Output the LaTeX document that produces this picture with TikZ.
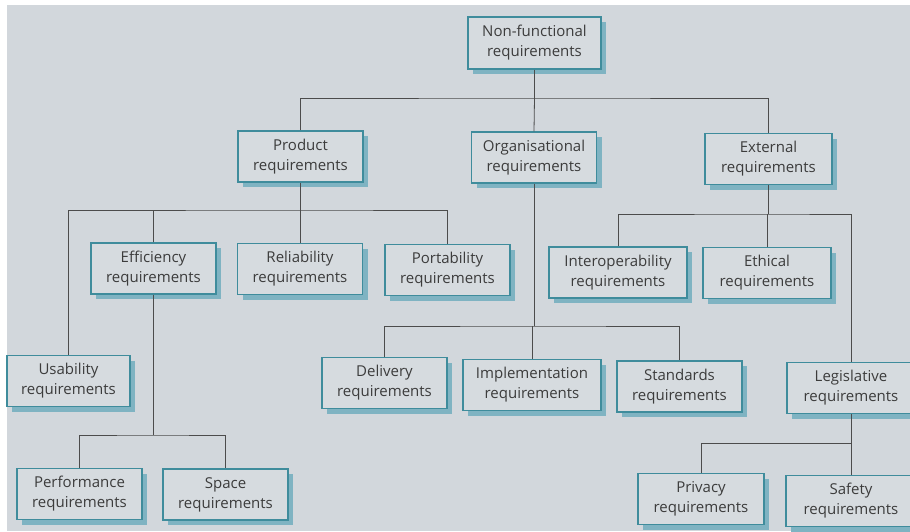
\documentclass[tikz,border=0pt]{standalone}
\usepackage{fontspec}
\setmainfont{Open Sans}
\usepackage{xcolor}
\usetikzlibrary{calc}
\usetikzlibrary{positioning,shadows}
\definecolor{paper}{HTML}{D2D7DC}
\definecolor{boxfill}{HTML}{D6DBDF}
\definecolor{boxline}{HTML}{3F8C9C}
\definecolor{boxshade}{HTML}{7FB3C2}
\definecolor{inkgrey}{HTML}{3C3C3C}
\tikzset{req/.style={draw=boxline, line width=1.1pt, fill=boxfill, text=inkgrey, align=center,
  minimum width=125pt, minimum height=51pt, inner sep=2pt,
  font=\fontsize{15}{20}\selectfont,
  drop shadow={shadow xshift=5pt, shadow yshift=-5pt, fill=boxshade, opacity=1}}}
\tikzset{wire/.style={draw=black!70, line width=0.8pt}}

\begin{document}
\begin{tikzpicture}[x=1pt,y=-1pt]
\useasboundingbox (0,0) rectangle (910,531);
\fill[white] (0,0) rectangle (910,531);
\fill[paper] (7,5) rectangle (910,531);

\node[req, minimum width=133pt, minimum height=52pt] (nonfunc) at (534.5,43) {Non-functional\\requirements};
\node[req] (product) at (300.5,156.5) {Product\\requirements};
\node[req] (org) at (534,157.5) {Organisational\\requirements};
\node[req, minimum width=127pt] (ext) at (768.5,159) {External\\requirements};

\node[req] (eff) at (153.5,268.5) {Efficiency\\requirements};
\node[req] (rel) at (300,269) {Reliability\\requirements};
\node[req] (port) at (447.5,270) {Portability\\requirements};
\node[req, minimum width=138pt] (inter) at (618,272.5) {Interoperability\\requirements};
\node[req, minimum width=128pt] (ethic) at (767,273) {Ethical\\requirements};

\node[req, minimum width=123pt] (usab) at (68.5,381) {Usability\\requirements};
\node[req] (deliv) at (384.5,383) {Delivery\\requirements};
\node[req, minimum width=138pt] (impl) at (532,385) {Implementation\\requirements};
\node[req] (stand) at (679.5,386.5) {Standards\\requirements};
\node[req, minimum width=128pt] (legis) at (851,388) {Legislative\\requirements};

\node[req] (perf) at (79.5,494) {Performance\\requirements};
\node[req] (space) at (225.5,494.5) {Space\\requirements};
\node[req, minimum width=126pt] (priv) at (701,499) {Privacy\\requirements};
\node[req, minimum width=130pt] (safety) at (851,501) {Safety\\requirements};

\coordinate (top) at (nonfunc.south |- 0,98);
\coordinate (prodbar) at (product.south |- 0,210);
\coordinate (effbar) at (eff.south |- 0,435);
\coordinate (orgbar) at (org.south |- 0,326);
\coordinate (extbar) at (ext.south |- 0,214);
\coordinate (legbar) at (legis.south |- 0,443);

\draw[wire] (nonfunc.south) -- (top);
\draw[wire] (product.north) |- (top) -| (ext.north);
\draw[wire] (org.north) -- (top);

\draw[wire] (product.south) -- (prodbar);
\draw[wire] (usab.north) |- (prodbar) -| (port.north);
\draw[wire] (eff.north) -- (eff.north |- prodbar);
\draw[wire] (rel.north) -- (rel.north |- prodbar);

\draw[wire] (eff.south) -- (effbar);
\draw[wire] (perf.north) |- (effbar) -| (space.north);

\draw[wire] (org.south) -- (orgbar);
\draw[wire] (deliv.north) |- (orgbar) -| (stand.north);
\draw[wire] (impl.north) -- (impl.north |- orgbar);

\draw[wire] (ext.south) -- (extbar);
\draw[wire] (inter.north) |- (extbar) -| (legis.north);
\draw[wire] (ethic.north) -- (ethic.north |- extbar);

\draw[wire] (legis.south) -- (safety.north);
\draw[wire] (priv.north) |- (legbar);
\end{tikzpicture}
\end{document}
